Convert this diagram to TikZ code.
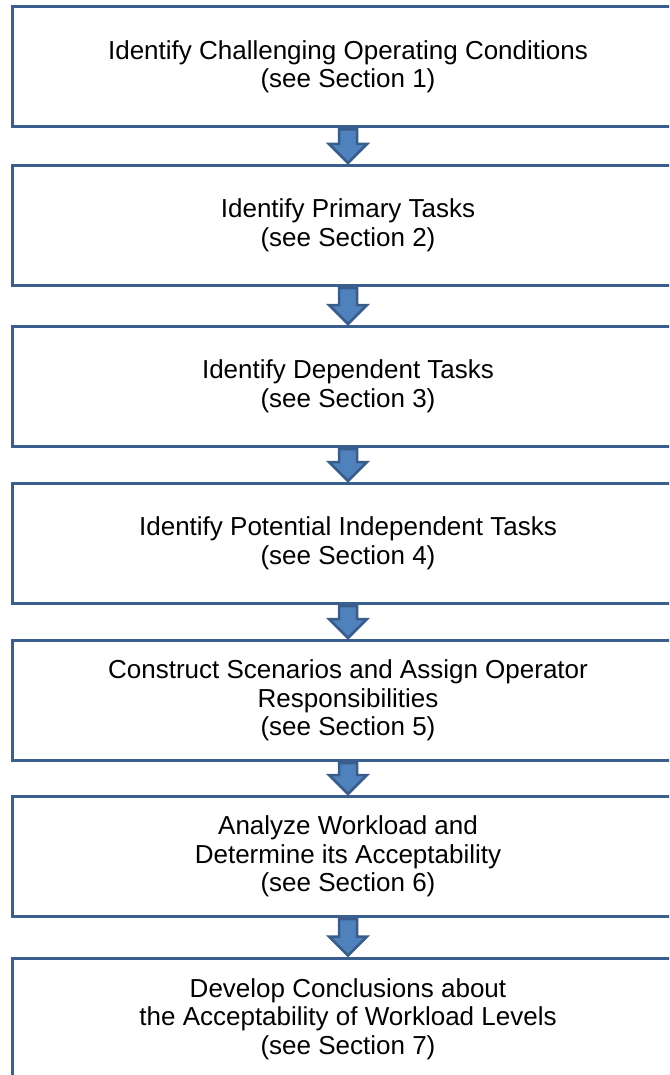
\documentclass[tikz,border=0pt]{standalone}
\usepackage{fontspec}
\setmainfont{Liberation Sans}
\usetikzlibrary{calc}
\definecolor{boxblue}{RGB}{58,95,142}
\definecolor{arrowblue}{RGB}{79,129,189}
\definecolor{arrowedge}{RGB}{56,93,138}

\tikzset{
  stepbox/.style={draw=boxblue, line width=3pt, minimum width=672pt, minimum height=120pt,
    align=center, inner sep=0pt, font=\fontsize{26}{28.5}\selectfont},
  flowarrow/.style={draw=arrowedge, fill=arrowblue, line width=2.5pt, line join=miter}
}
% block arrow from the bottom of one box to the top of the next
\newcommand{\flowdown}[2]{%
  \draw[flowarrow] ($(#1.south)+(-9,1)$) -- ($(#2.north)+(-9,-20)$) -- ($(#2.north)+(-19,-20)$)
    -- ($(#2.north)+(0,-1)$) -- ($(#2.north)+(19,-20)$) -- ($(#2.north)+(9,-20)$)
    -- ($(#1.south)+(9,1)$) -- cycle;}

\begin{document}
\begin{tikzpicture}[x=1pt,y=-1pt]
	\useasboundingbox (0,0) rectangle (669,1075);
	\clip (0,0) rectangle (669,1075);

	\node[stepbox] (conditions) at (348,67) {Identify Challenging Operating Conditions\\(see Section 1)};
	\node[stepbox] (primary) at (348,225.5) {Identify Primary Tasks\\(see Section 2)};
	\node[stepbox] (dependent) at (348,386.5) {Identify Dependent Tasks\\(see Section 3)};
	\node[stepbox] (independent) at (348,543.5) {Identify Potential Independent Tasks\\(see Section 4)};
	\node[stepbox] (scenarios) at (348,700.5) {Construct Scenarios and Assign Operator\\Responsibilities\\(see Section 5)};
	\node[stepbox] (workload) at (348,856.5) {Analyze Workload and\\Determine its Acceptability\\(see Section 6)};
	\node[stepbox, minimum height=122pt] (conclusions) at (348,1019) {Develop Conclusions about\\the Acceptability of Workload Levels\\(see Section 7)};

	\flowdown{conditions}{primary}
	\flowdown{primary}{dependent}
	\flowdown{dependent}{independent}
	\flowdown{independent}{scenarios}
	\flowdown{scenarios}{workload}
	\flowdown{workload}{conclusions}
\end{tikzpicture}
\end{document}
